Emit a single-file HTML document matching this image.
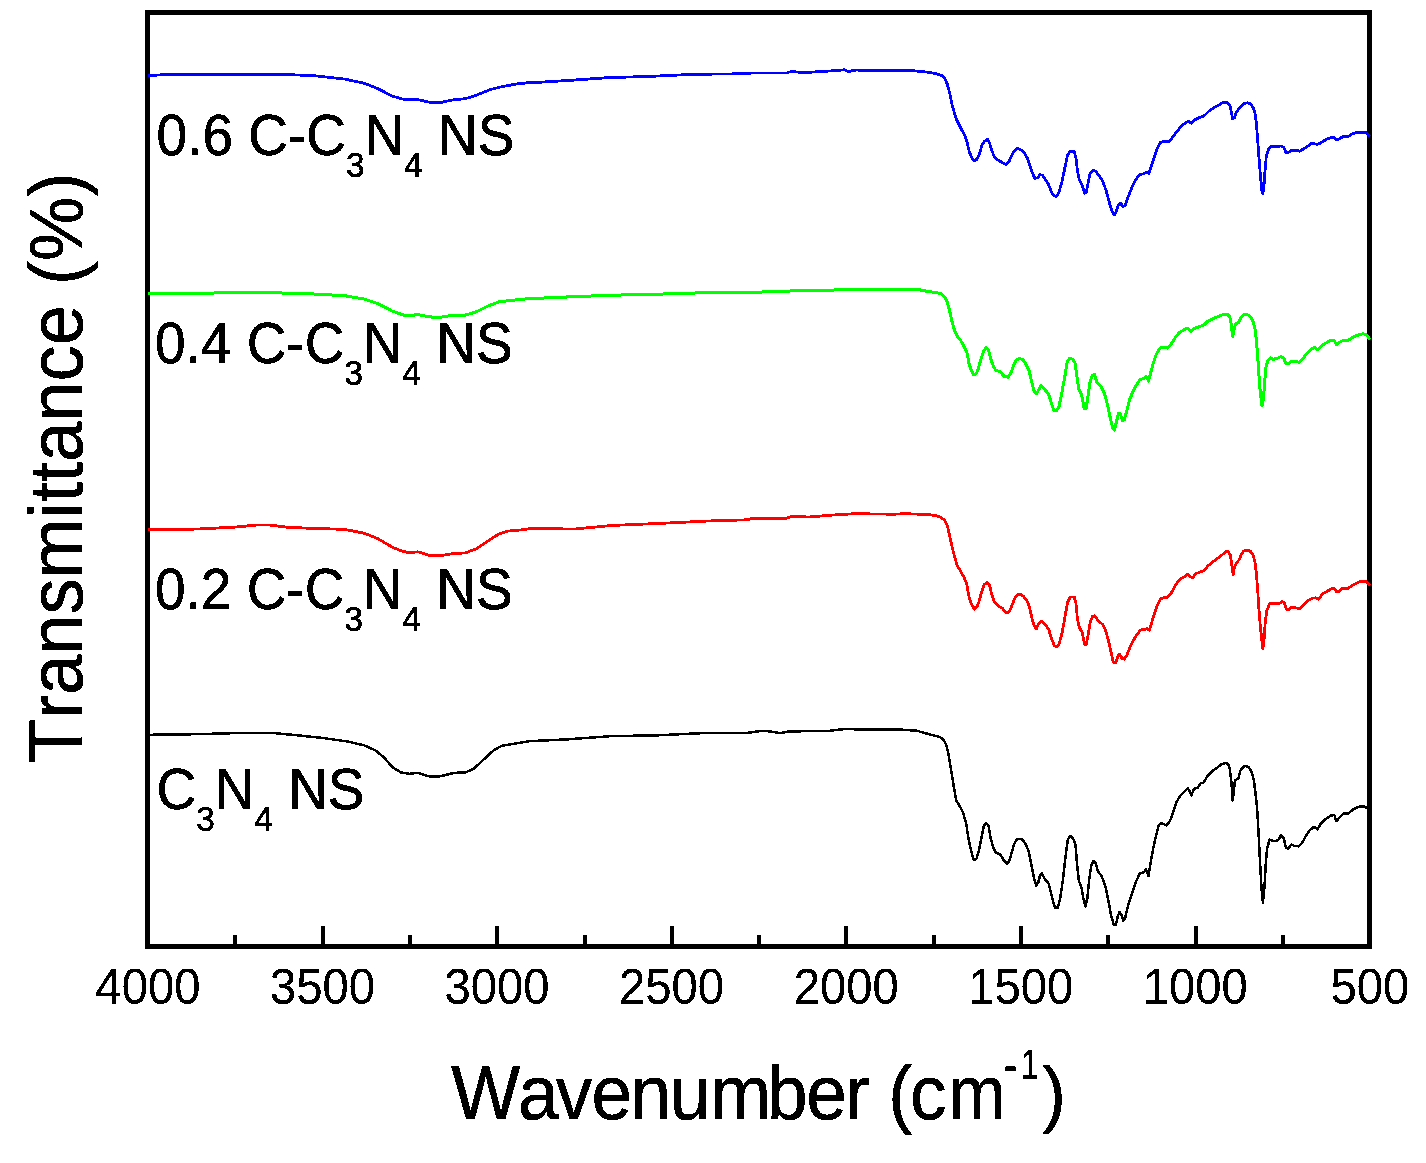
<!DOCTYPE html>
<html><head><meta charset="utf-8"><title>FTIR spectra</title>
<style>
html,body{margin:0;padding:0;background:#fff;}
body{width:1426px;height:1163px;overflow:hidden;}
svg{display:block;}
text{filter:url(#bw);font-family:"Liberation Sans",sans-serif;fill:#000;}
.tk{font-size:47px;stroke:#000;stroke-width:0.2px;}
.lb{font-size:55px;stroke:#000;stroke-width:0.6px;}
.sb{font-size:33.2px;}
.ti{font-size:72px;stroke:#000;stroke-width:0.5px;}
.sp{font-size:42px;stroke:#000;stroke-width:0.5px;}
</style></head><body>
<svg width="1426" height="1163" viewBox="0 0 1426 1163">
<defs><filter id="bw" x="-5%" y="-20%" width="110%" height="140%" color-interpolation-filters="sRGB"><feComponentTransfer><feFuncA type="discrete" tableValues="0 1"/></feComponentTransfer></filter></defs>
<rect x="0" y="0" width="1426" height="1163" fill="#fff"/>
<rect x="147.5" y="12.5" width="1222.0" height="934.0" fill="none" stroke="#000" stroke-width="5"/>
<line x1="235.49" y1="944.5" x2="235.49" y2="935.0" stroke="#000" stroke-width="4" shape-rendering="crispEdges"/>
<line x1="322.77" y1="944.5" x2="322.77" y2="926.0" stroke="#000" stroke-width="4" shape-rendering="crispEdges"/>
<line x1="410.06" y1="944.5" x2="410.06" y2="935.0" stroke="#000" stroke-width="4" shape-rendering="crispEdges"/>
<line x1="497.34" y1="944.5" x2="497.34" y2="926.0" stroke="#000" stroke-width="4" shape-rendering="crispEdges"/>
<line x1="584.63" y1="944.5" x2="584.63" y2="935.0" stroke="#000" stroke-width="4" shape-rendering="crispEdges"/>
<line x1="671.91" y1="944.5" x2="671.91" y2="926.0" stroke="#000" stroke-width="4" shape-rendering="crispEdges"/>
<line x1="759.20" y1="944.5" x2="759.20" y2="935.0" stroke="#000" stroke-width="4" shape-rendering="crispEdges"/>
<line x1="846.49" y1="944.5" x2="846.49" y2="926.0" stroke="#000" stroke-width="4" shape-rendering="crispEdges"/>
<line x1="933.77" y1="944.5" x2="933.77" y2="935.0" stroke="#000" stroke-width="4" shape-rendering="crispEdges"/>
<line x1="1021.06" y1="944.5" x2="1021.06" y2="926.0" stroke="#000" stroke-width="4" shape-rendering="crispEdges"/>
<line x1="1108.34" y1="944.5" x2="1108.34" y2="935.0" stroke="#000" stroke-width="4" shape-rendering="crispEdges"/>
<line x1="1195.63" y1="944.5" x2="1195.63" y2="926.0" stroke="#000" stroke-width="4" shape-rendering="crispEdges"/>
<line x1="1282.91" y1="944.5" x2="1282.91" y2="935.0" stroke="#000" stroke-width="4" shape-rendering="crispEdges"/>
<text class="tk" transform="translate(147.90,1003.6) scale(1.005,1.06)" text-anchor="middle">4000</text>
<text class="tk" transform="translate(322.47,1003.6) scale(1.005,1.06)" text-anchor="middle">3500</text>
<text class="tk" transform="translate(497.04,1003.6) scale(1.005,1.06)" text-anchor="middle">3000</text>
<text class="tk" transform="translate(671.61,1003.6) scale(1.005,1.06)" text-anchor="middle">2500</text>
<text class="tk" transform="translate(846.19,1003.6) scale(1.005,1.06)" text-anchor="middle">2000</text>
<text class="tk" transform="translate(1020.76,1003.6) scale(1.005,1.06)" text-anchor="middle">1500</text>
<text class="tk" transform="translate(1195.33,1003.6) scale(1.005,1.06)" text-anchor="middle">1000</text>
<text class="tk" transform="translate(1369.90,1003.6) scale(1.005,1.06)" text-anchor="middle">500</text>
<path d="M149.8,734.8 L196.1,734.2 L246.6,732.8 L274.6,733.1 L297.1,735.3 L322.3,737.9 L347.6,741.5 L364.4,745.4 L375.6,750.5 L384.0,757.5 L392.5,767.3 L400.9,772.4 L409.3,773.8 L417.7,772.9 L428.9,776.3 L440.1,776.3 L454.2,772.9 L465.4,772.4 L473.8,768.7 L485.0,758.3 L493.4,750.5 L501.9,745.7 L515.9,743.5 L529.9,741.0 L540.0,740.7 L568.1,739.3 L610.1,736.2 L657.8,735.3 L702.7,733.1 L747.6,732.8 L761.6,730.9 L770.0,731.4 L779.8,733.1 L789.6,731.4 L828.9,730.9 L842.9,729.2 L899.0,729.5 L918.7,730.9 L920.0,731.7 L931.3,734.8 L939.9,737.0 L943.6,739.9 L946.5,745.5 L948.4,754.0 L950.3,765.4 L952.2,776.7 L954.0,788.1 L956.3,800.4 L959.7,806.1 L963.1,812.7 L966.3,824.0 L968.2,837.3 L970.7,848.6 L973.3,859.0 L974.9,860.0 L976.7,858.1 L979.0,850.5 L981.5,837.3 L983.9,825.9 L986.2,823.1 L988.5,825.9 L990.9,839.2 L993.4,847.7 L995.7,852.4 L1000.4,854.7 L1004.2,860.9 L1007.0,863.7 L1009.3,860.9 L1011.7,852.4 L1014.2,843.9 L1016.8,839.2 L1020.2,838.8 L1023.1,840.1 L1025.9,844.8 L1028.8,851.5 L1031.6,865.6 L1034.1,878.9 L1036.3,885.5 L1038.2,882.7 L1040.1,875.1 L1042.0,873.6 L1044.8,878.9 L1048.6,883.6 L1050.9,892.1 L1053.3,902.5 L1055.2,907.6 L1057.7,907.6 L1060.0,899.7 L1062.8,880.8 L1065.6,856.2 L1067.9,839.2 L1070.4,835.8 L1073.2,838.8 L1075.5,844.8 L1077.0,863.7 L1078.9,880.8 L1081.7,888.3 L1083.6,899.7 L1085.5,906.3 L1087.4,897.8 L1089.3,878.9 L1091.2,865.6 L1093.6,860.9 L1095.9,863.7 L1097.8,871.3 L1101.6,876.0 L1105.4,886.4 L1108.2,899.7 L1111.0,914.8 L1113.9,925.2 L1115.8,925.2 L1117.7,916.7 L1119.5,912.0 L1121.4,914.8 L1123.3,920.9 L1125.2,917.7 L1128.1,905.4 L1131.8,894.0 L1135.6,882.7 L1139.4,874.2 L1140.0,873.2 L1143.8,872.3 L1146.1,869.4 L1148.5,876.0 L1150.4,863.7 L1153.2,848.6 L1156.1,835.4 L1158.9,825.0 L1161.2,823.1 L1163.6,824.0 L1166.5,825.5 L1169.9,821.2 L1173.1,812.7 L1176.3,802.3 L1179.7,796.6 L1183.5,792.3 L1187.7,788.1 L1189.6,790.9 L1191.4,795.3 L1193.9,789.0 L1197.7,787.7 L1200.5,783.4 L1203.4,782.8 L1207.1,776.7 L1211.9,771.4 L1216.6,768.2 L1221.3,764.4 L1225.1,763.1 L1228.0,763.9 L1229.8,769.2 L1231.4,782.4 L1232.7,800.4 L1233.6,793.8 L1234.9,780.5 L1238.4,778.3 L1240.2,771.1 L1243.1,766.9 L1245.9,766.0 L1248.8,767.3 L1251.6,772.0 L1253.9,780.5 L1255.8,795.7 L1257.3,810.8 L1258.8,837.3 L1260.1,863.7 L1261.4,886.4 L1262.9,902.5 L1264.5,886.4 L1265.8,863.7 L1267.1,848.6 L1269.6,839.5 L1272.4,840.7 L1276.2,841.1 L1279.0,839.2 L1280.9,835.0 L1283.7,838.2 L1286.0,847.7 L1288.5,848.6 L1291.3,844.5 L1294.2,845.8 L1298.9,846.3 L1302.7,842.0 L1306.4,835.0 L1310.2,829.7 L1314.0,826.9 L1317.4,829.3 L1320.6,824.0 L1325.4,819.3 L1331.0,815.5 L1334.4,815.1 L1336.3,821.2 L1339.5,817.4 L1343.3,813.6 L1348.1,813.6 L1353.7,808.9 L1359.4,806.6 L1364.1,806.6 L1367.9,808.5" fill="none" stroke="#000000" stroke-width="2.5" stroke-linejoin="round" stroke-linecap="butt" shape-rendering="crispEdges"/>
<path d="M147.9,529.4 L196.1,529.1 L235.4,527.1 L257.8,524.9 L269.0,524.9 L285.9,527.1 L308.3,528.2 L344.8,529.4 L364.4,533.3 L378.4,538.9 L392.5,547.3 L400.9,550.7 L409.3,552.9 L417.7,551.8 L428.9,555.2 L442.9,555.2 L454.2,553.5 L465.4,552.9 L476.6,548.7 L487.8,541.2 L499.0,533.9 L507.5,531.1 L521.5,529.9 L532.7,528.2 L540.0,528.5 L573.7,529.1 L612.9,525.4 L657.8,523.5 L708.3,521.0 L747.6,519.8 L753.2,518.1 L786.8,518.1 L791.1,516.5 L809.3,517.0 L831.7,515.1 L854.2,513.7 L893.4,514.2 L904.7,513.7 L920.0,514.2 L927.6,514.6 L936.1,515.5 L940.8,517.4 L944.6,520.3 L947.4,525.9 L949.3,534.4 L951.2,543.0 L953.7,553.4 L956.9,564.7 L960.1,570.4 L963.9,577.0 L966.9,584.6 L968.8,595.9 L971.1,603.5 L974.5,609.2 L976.7,607.3 L979.0,601.6 L981.5,592.1 L984.3,584.6 L987.1,582.3 L989.6,585.5 L991.9,595.0 L994.7,602.5 L997.5,605.4 L1002.3,608.2 L1006.1,612.6 L1008.9,612.0 L1011.7,606.3 L1014.6,598.8 L1017.4,594.6 L1021.2,594.4 L1024.0,596.9 L1026.9,600.6 L1029.3,606.3 L1032.0,618.6 L1034.4,626.2 L1036.3,629.0 L1038.8,623.3 L1041.1,621.1 L1043.9,623.3 L1048.6,629.0 L1051.5,638.5 L1054.3,645.5 L1056.6,646.6 L1059.0,644.2 L1061.9,633.7 L1064.7,618.6 L1067.5,602.5 L1070.4,596.9 L1074.2,596.9 L1076.0,603.5 L1077.4,618.6 L1079.3,627.1 L1082.3,632.8 L1084.6,644.2 L1086.4,644.2 L1088.3,633.7 L1090.2,622.4 L1092.5,616.3 L1095.0,615.8 L1097.8,620.5 L1102.5,624.3 L1105.4,630.0 L1108.2,639.4 L1110.7,650.8 L1113.3,662.1 L1115.8,663.1 L1117.7,656.4 L1119.5,654.2 L1122.0,658.3 L1124.3,659.3 L1127.1,654.6 L1130.9,645.1 L1135.6,636.6 L1139.4,631.5 L1140.0,630.0 L1144.7,629.6 L1147.2,628.5 L1149.5,630.3 L1151.7,622.4 L1154.8,612.9 L1158.0,603.5 L1160.8,598.8 L1163.6,597.8 L1167.4,597.4 L1171.2,593.1 L1175.9,584.6 L1179.7,579.3 L1184.4,577.0 L1187.7,574.2 L1190.7,577.0 L1193.0,577.4 L1195.8,573.6 L1199.6,572.3 L1204.3,570.4 L1208.1,565.7 L1212.8,561.9 L1217.5,558.5 L1222.3,554.7 L1226.1,551.5 L1228.0,551.5 L1230.4,555.3 L1231.7,563.8 L1233.1,574.7 L1234.6,566.6 L1236.5,562.8 L1239.3,559.6 L1241.2,554.3 L1244.0,550.9 L1247.4,550.1 L1250.6,551.5 L1253.1,555.3 L1255.0,561.9 L1256.3,573.2 L1257.6,588.4 L1258.8,607.3 L1260.3,626.2 L1262.0,641.3 L1262.9,648.5 L1264.1,639.4 L1265.2,622.4 L1266.7,611.1 L1269.6,603.5 L1272.4,603.1 L1276.2,603.5 L1280.0,603.1 L1281.9,601.2 L1284.1,602.5 L1286.0,608.2 L1287.9,610.1 L1291.3,607.6 L1295.1,607.6 L1299.8,608.8 L1303.6,605.4 L1308.3,600.6 L1312.1,598.2 L1315.9,597.8 L1318.7,599.3 L1322.5,594.0 L1327.3,591.2 L1332.0,588.4 L1334.4,588.4 L1336.7,592.1 L1339.5,591.2 L1342.4,588.4 L1348.1,588.4 L1353.7,584.6 L1359.4,581.7 L1366.0,581.7 L1369.2,584.6 L1369.8,585.5" fill="none" stroke="#ff0000" stroke-width="2.8" stroke-linejoin="round" stroke-linecap="butt" shape-rendering="crispEdges"/>
<path d="M147.9,293.8 L196.1,293.2 L252.2,292.6 L263.4,292.1 L285.9,293.2 L313.9,294.0 L344.8,295.7 L364.4,299.1 L378.4,303.9 L392.5,311.2 L403.7,315.1 L412.1,315.4 L417.7,314.5 L428.9,316.8 L438.7,317.6 L448.6,315.9 L465.4,315.1 L476.6,311.7 L487.8,306.1 L499.0,301.9 L510.3,300.5 L527.1,298.8 L540.0,298.2 L582.1,296.3 L624.2,294.9 L663.4,294.0 L708.3,292.6 L750.4,292.1 L786.8,291.8 L792.5,290.4 L831.7,290.1 L854.2,289.3 L915.9,289.6 L920.0,289.9 L927.6,291.4 L936.1,292.5 L940.8,293.7 L944.6,296.9 L947.4,302.6 L949.9,312.0 L952.2,322.4 L954.4,330.0 L956.9,335.7 L960.7,340.4 L964.4,347.0 L967.3,353.6 L968.8,363.1 L971.1,369.7 L973.9,375.0 L976.4,373.5 L978.6,367.8 L980.9,359.3 L983.4,351.7 L986.2,347.4 L988.5,350.4 L990.9,359.3 L993.4,366.3 L995.7,370.1 L1000.4,372.0 L1004.2,376.3 L1008.0,377.3 L1010.8,373.1 L1013.6,365.5 L1016.5,359.9 L1019.3,358.4 L1023.1,359.9 L1025.9,364.0 L1028.8,369.7 L1031.6,381.1 L1033.9,390.5 L1036.3,393.9 L1038.8,389.6 L1041.1,385.2 L1043.9,388.6 L1048.6,393.9 L1051.5,403.7 L1053.9,410.4 L1056.2,410.9 L1059.0,406.6 L1061.9,392.4 L1064.7,377.3 L1067.2,362.1 L1069.8,358.0 L1072.8,359.3 L1075.1,363.1 L1077.0,377.3 L1078.9,389.6 L1081.7,395.2 L1084.2,408.5 L1086.1,408.5 L1088.0,396.2 L1089.9,382.9 L1092.1,375.4 L1094.4,374.4 L1096.8,382.0 L1101.2,386.7 L1104.4,393.3 L1107.3,403.7 L1110.1,417.0 L1112.5,427.4 L1114.4,430.2 L1116.7,420.8 L1118.6,413.2 L1120.5,414.2 L1122.4,420.4 L1124.3,419.8 L1127.1,409.4 L1129.9,399.0 L1133.7,389.6 L1138.5,382.0 L1140.0,379.2 L1143.4,378.8 L1146.1,376.3 L1148.5,381.1 L1151.0,371.6 L1153.6,362.1 L1156.6,353.6 L1159.9,348.5 L1162.7,347.0 L1167.4,348.1 L1171.2,344.2 L1175.9,336.6 L1179.7,332.3 L1184.4,329.6 L1187.7,328.1 L1191.1,331.5 L1194.9,328.1 L1199.6,326.6 L1204.3,324.7 L1208.1,320.9 L1212.8,319.0 L1217.5,316.7 L1223.2,314.5 L1227.4,314.3 L1229.8,316.7 L1231.4,325.3 L1232.7,336.6 L1234.2,329.0 L1235.5,323.9 L1238.7,322.4 L1241.2,317.1 L1244.0,314.9 L1247.8,314.9 L1250.6,316.7 L1253.1,321.5 L1255.0,329.0 L1256.3,339.4 L1257.6,354.6 L1258.8,373.5 L1260.3,392.4 L1262.0,405.6 L1263.3,400.0 L1264.5,384.8 L1265.8,367.8 L1267.7,361.2 L1270.5,358.0 L1273.3,359.3 L1277.1,358.4 L1280.9,356.5 L1283.7,358.0 L1286.0,363.7 L1288.5,363.7 L1291.3,361.2 L1295.1,361.8 L1299.3,362.1 L1303.0,358.4 L1307.4,353.1 L1311.7,348.9 L1315.0,347.4 L1317.8,349.8 L1321.2,346.1 L1326.3,342.8 L1331.0,340.4 L1334.4,341.0 L1336.7,344.7 L1339.5,342.3 L1343.3,340.4 L1348.1,340.4 L1353.7,336.6 L1359.4,334.7 L1363.2,333.8 L1366.6,334.7 L1369.2,338.5 L1369.8,339.5" fill="none" stroke="#00ff00" stroke-width="3.0" stroke-linejoin="round" stroke-linecap="butt" shape-rendering="crispEdges"/>
<path d="M147.9,75.7 L159.6,74.9 L207.3,74.3 L280.3,74.3 L313.9,75.7 L344.8,79.1 L364.4,83.3 L378.4,88.9 L392.5,96.2 L403.7,99.3 L417.7,99.6 L428.9,102.1 L441.5,102.4 L451.4,100.1 L465.4,98.7 L476.6,95.1 L490.6,89.5 L501.9,86.7 L515.9,84.1 L529.9,82.5 L540.0,82.2 L568.1,80.5 L607.3,77.7 L652.2,76.3 L694.3,74.3 L742.0,73.8 L753.2,72.9 L786.8,72.9 L791.1,71.5 L803.7,72.6 L834.5,70.7 L844.3,69.8 L848.6,71.5 L855.6,70.1 L910.3,70.4 L920.0,71.4 L927.6,72.2 L936.1,73.7 L941.8,75.6 L944.6,77.8 L947.4,84.4 L949.9,93.9 L952.2,105.3 L954.4,112.8 L956.9,120.4 L960.7,128.0 L964.4,134.6 L967.3,143.1 L969.2,151.6 L972.0,158.2 L974.5,160.7 L977.1,159.2 L979.6,153.5 L982.0,145.0 L984.7,141.2 L987.7,139.3 L989.6,143.1 L991.9,150.6 L994.1,156.3 L996.6,159.2 L1001.3,162.0 L1006.1,164.8 L1008.9,162.0 L1011.7,155.4 L1014.6,150.6 L1017.4,148.2 L1020.2,149.3 L1023.7,152.0 L1027.4,158.2 L1029.7,164.8 L1032.5,173.3 L1035.0,178.5 L1037.6,177.7 L1040.1,174.7 L1042.6,175.2 L1045.8,180.0 L1048.6,184.7 L1051.5,192.3 L1053.9,196.0 L1056.6,196.2 L1059.0,192.3 L1061.9,181.9 L1064.7,168.6 L1067.5,155.4 L1070.4,151.2 L1074.2,151.6 L1076.0,158.2 L1077.4,170.5 L1079.3,180.0 L1082.3,185.6 L1084.6,193.2 L1086.4,192.3 L1088.3,181.9 L1090.2,173.3 L1093.1,170.1 L1095.9,171.5 L1099.7,176.6 L1103.1,181.9 L1106.3,191.3 L1109.1,201.7 L1112.0,211.2 L1114.4,215.0 L1116.7,210.2 L1118.6,204.6 L1120.5,203.0 L1122.8,206.4 L1125.2,205.5 L1128.1,197.0 L1131.8,187.5 L1135.6,180.0 L1139.4,174.7 L1140.0,174.3 L1143.8,173.9 L1146.6,172.0 L1149.1,173.3 L1151.3,165.8 L1154.2,157.3 L1157.4,147.8 L1160.4,142.5 L1163.6,141.2 L1168.4,141.8 L1171.8,138.4 L1175.9,132.7 L1180.7,127.0 L1185.4,122.8 L1188.8,121.3 L1191.4,123.2 L1193.9,120.4 L1198.6,117.9 L1204.3,115.7 L1208.5,111.5 L1213.8,107.7 L1218.5,105.3 L1223.2,102.4 L1227.0,102.0 L1229.8,105.3 L1231.4,111.9 L1232.7,119.1 L1234.6,117.5 L1236.5,111.9 L1240.2,107.1 L1243.7,103.4 L1247.4,102.8 L1250.6,103.9 L1253.5,108.1 L1255.4,114.7 L1256.5,125.1 L1257.6,138.4 L1258.8,155.4 L1260.3,174.3 L1262.0,191.3 L1262.9,193.6 L1264.1,183.7 L1265.2,168.6 L1266.3,156.3 L1268.6,149.3 L1271.5,146.3 L1276.2,146.9 L1280.9,145.9 L1283.7,147.4 L1286.0,152.5 L1288.5,152.5 L1291.3,150.1 L1296.0,150.1 L1299.8,151.2 L1303.6,148.8 L1308.0,145.9 L1312.1,143.1 L1316.8,144.4 L1320.6,143.1 L1325.4,139.9 L1331.0,137.4 L1334.4,137.4 L1336.7,139.9 L1339.5,138.7 L1343.3,136.5 L1348.1,136.5 L1352.8,133.6 L1357.5,132.1 L1366.0,132.3 L1368.9,135.5 L1369.8,136.6" fill="none" stroke="#0000ff" stroke-width="2.8" stroke-linejoin="round" stroke-linecap="butt" shape-rendering="crispEdges"/>
<text class="lb" transform="translate(156.6,154.6) scale(1,1.035)">0.6 C-C<tspan class="sb" dy="22">3</tspan><tspan dy="-22">N</tspan><tspan class="sb" dy="22">4</tspan><tspan dy="-22"> NS</tspan></text>
<text class="lb" transform="translate(154.9,362.5) scale(1,1.035)">0.4 C-C<tspan class="sb" dy="22">3</tspan><tspan dy="-22">N</tspan><tspan class="sb" dy="22">4</tspan><tspan dy="-22"> NS</tspan></text>
<text class="lb" transform="translate(154.9,608.6) scale(1,1.035)">0.2 C-C<tspan class="sb" dy="22">3</tspan><tspan dy="-22">N</tspan><tspan class="sb" dy="22">4</tspan><tspan dy="-22"> NS</tspan></text>
<text class="lb" transform="translate(156.5,808.6) scale(1,1.035)">C<tspan class="sb" dy="22">3</tspan><tspan dy="-22">N</tspan><tspan class="sb" dy="22">4</tspan><tspan dy="-22"> NS</tspan></text>
<text class="ti" style="font-size:73px;font-kerning:none" transform="translate(0,1119.4) scale(1,1.04)" x="451.2 518.1 555.7 591.6 630.4 669.8 710.3 767.1 806.2 845.3 872 888.2 910" y="0">Wavenumber (c<tspan x="948.6" textLength="56.9" lengthAdjust="spacingAndGlyphs">m</tspan></text>
<text class="sp" transform="translate(1003.6,1079.4) scale(0.8,1.04)"><tspan style="font-size:52px" x="0" dy="3.4">-</tspan><tspan style="font-size:40.5px" x="21.3" dy="-3.4">1</tspan></text>
<text class="ti" transform="translate(1042.3,1119.4) scale(0.983,1.04)">)</text>
<text class="ti" style="font-kerning:none" transform="translate(82.1,763.3) rotate(-90) scale(1.0045,1.05)">Transmittance (%)</text>
</svg>
</body></html>
